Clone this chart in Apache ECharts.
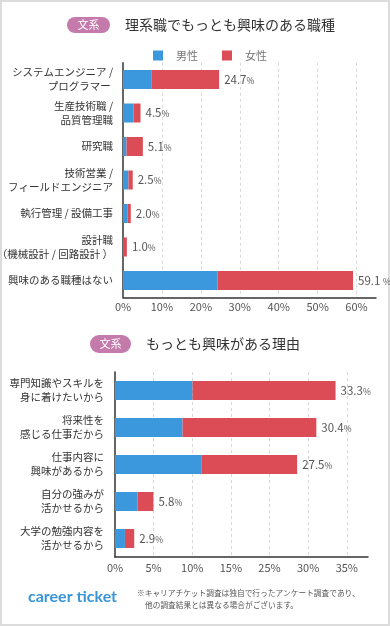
<!DOCTYPE html>
<html><head><meta charset="utf-8">
<script src="https://cdn.jsdelivr.net/npm/echarts@6/dist/echarts.min.js"></script>
<style>html,body{margin:0;padding:0;background:#fff}#c{width:390px;height:626px}</style>
</head><body><div id="c"></div>
<script>
var cats1 = ["システムエンジニア /\nプログラマー ", "生産技術職 /\n品質管理職", "研究職", "技術営業 /\nフィールドエンジニア", "執行管理 / 設備工事", "設計職\n（機械設計 / 回路設計 ）", "興味のある職種はない"];
var male1 = [7.4, 2.7, 0.9, 1.4, 1.2, 0, 24.3];
var female1 = [17.3, 1.8, 4.2, 1.1, 0.8, 1.0, 34.8];
var total1 = ["24.7", "4.5", "5.1", "2.5", "2.0", "1.0", "59.1 "];
var ticks1 = ["0%", "10%", "20%", "30%", "40%", "50%", "60%"];

var cats2 = ["専門知識やスキルを\n身に着けたいから", "将来性を\n感じる仕事だから", "仕事内容に\n興味があるから", "自分の強みが\n活かせるから", "大学の勉強内容を\n活かせるから"];
var male2 = [11.7, 10.2, 13.1, 3.4, 1.5];
var female2 = [21.6, 20.2, 14.4, 2.4, 1.4];
var total2 = ["33.3", "30.4", "27.5", "5.8", "2.9"];
var ticks2 = ["0%", "5%", "10%", "15%", "25%", "30%", "35%"];

var BLUE = '#3b98dd', RED = '#dc4c56', PILL = '#c47aab';
var FONT = '"Noto Sans CJK JP", "Noto Sans", sans-serif';
var chart = echarts.init(document.getElementById('c'));
var step2 = 35 / 6;

function valLabel(totals) {
  return {
    show: true, position: 'right', distance: 5,
    formatter: function (p) { return '{n|' + totals[p.dataIndex] + '}{p|%}'; },
    rich: {
      n: { fontSize: 11.5, color: '#555', fontFamily: FONT },
      p: { fontSize: 8.5, color: '#555', fontFamily: FONT, padding: [2, 0, 0, 0] }
    }
  };
}

var catAxisBase = {
  type: 'category', inverse: true,
  axisLine: { lineStyle: { color: '#333', width: 1.5 } },
  axisTick: { show: false },
  axisLabel: { color: '#333', fontSize: 10.5, lineHeight: 14, fontFamily: FONT, margin: 10, align: 'right' }
};

chart.setOption({
  backgroundColor: '#fff',
  animation: false,
  textStyle: { fontFamily: FONT },
  legend: {
    left: 148, top: 45, itemWidth: 10, itemHeight: 10, itemGap: 24,
    icon: 'rect',
    data: ['男性', '女性'],
    textStyle: { color: '#777', fontSize: 11, padding: [0, 0, 0, 8], fontFamily: FONT }
  },
  grid: [
    { left: 123, right: 14, top: 62.75, height: 234.5, outerBoundsMode: 'none', containLabel: false },
    { left: 115, right: 22, top: 372, height: 185, outerBoundsMode: 'none', containLabel: false }
  ],
  xAxis: [
    {
      gridIndex: 0, type: 'value', min: 0, max: 65, interval: 10,
      axisLine: { show: true, lineStyle: { color: '#333', width: 1.5 } },
      axisTick: { show: false },
      splitLine: { show: true, showMinLine: false, showMaxLine: false, lineStyle: { color: '#d8d8d8', type: [3, 3] } },
      axisLabel: {
        color: '#555', fontSize: 11, margin: 4, fontFamily: FONT, showMaxLabel: false,
        formatter: function (v) { var i = Math.round(v / 10); return (Math.abs(v - i * 10) < 0.01 && i < ticks1.length) ? ticks1[i] : ''; }
      }
    },
    {
      gridIndex: 1, type: 'value', min: 0, max: 38.2, interval: step2,
      axisLine: { show: true, lineStyle: { color: '#333', width: 1.5 } },
      axisTick: { show: false },
      splitLine: { show: true, showMinLine: false, showMaxLine: false, lineStyle: { color: '#d8d8d8', type: [3, 3] } },
      axisLabel: {
        color: '#555', fontSize: 11, margin: 5, fontFamily: FONT, showMaxLabel: false,
        formatter: function (v) { var i = Math.round(v / step2); return (Math.abs(v - i * step2) < 0.01 && i < ticks2.length) ? ticks2[i] : ''; }
      }
    }
  ],
  yAxis: [
    Object.assign({ gridIndex: 0, data: cats1 }, catAxisBase),
    Object.assign({ gridIndex: 1, data: cats2 }, catAxisBase, { axisLabel: Object.assign({}, catAxisBase.axisLabel, { margin: 11 }) })
  ],
  series: [
    { name: '男性', type: 'bar', stack: 'a', xAxisIndex: 0, yAxisIndex: 0, barWidth: 19, data: male1, itemStyle: { color: BLUE } },
    { name: '女性', type: 'bar', stack: 'a', xAxisIndex: 0, yAxisIndex: 0, barWidth: 19, data: female1, itemStyle: { color: RED }, label: valLabel(total1) },
    { name: '男性', type: 'bar', stack: 'b', xAxisIndex: 1, yAxisIndex: 1, barWidth: 19, data: male2, itemStyle: { color: BLUE } },
    { name: '女性', type: 'bar', stack: 'b', xAxisIndex: 1, yAxisIndex: 1, barWidth: 19, data: female2, itemStyle: { color: RED }, label: valLabel(total2) }
  ],
  graphic: [
    { type: 'rect', shape: { x: 1, y: 1, width: 388, height: 624 }, style: { fill: 'none', stroke: '#dcdcdc', lineWidth: 2 }, silent: true },
    { type: 'rect', shape: { x: 67, y: 17, width: 43, height: 16, r: 8 }, style: { fill: PILL } },
    { type: 'text', x: 88.5, y: 25, style: { text: '文系', fill: '#fff', fontSize: 11, fontFamily: FONT, align: 'center', verticalAlign: 'middle' } },
    { type: 'text', x: 125, y: 25, style: { text: '理系職でもっとも興味のある職種', fill: '#333', fontSize: 14, fontFamily: FONT, verticalAlign: 'middle' } },
    { type: 'rect', shape: { x: 90, y: 335, width: 41, height: 18, r: 9 }, style: { fill: PILL } },
    { type: 'text', x: 110.5, y: 344, style: { text: '文系', fill: '#fff', fontSize: 11, fontFamily: FONT, align: 'center', verticalAlign: 'middle' } },
    { type: 'text', x: 146, y: 344, style: { text: 'もっとも興味がある理由', fill: '#333', fontSize: 14, fontFamily: FONT, verticalAlign: 'middle' } },
    { type: 'text', x: 28, y: 597, style: { text: 'career ticket', fill: '#3a95d8', fontSize: 16, fontWeight: 'bold', fontFamily: 'Lato, sans-serif', verticalAlign: 'middle' } },
    { type: 'text', x: 137, y: 593, style: { text: '※キャリアチケット調査は独自で行ったアンケート調査であり、', fill: '#555', fontSize: 7.7, fontFamily: FONT, verticalAlign: 'middle' } },
    { type: 'text', x: 145, y: 605, style: { text: '他の調査結果とは異なる場合がございます。', fill: '#555', fontSize: 7.7, fontFamily: FONT, verticalAlign: 'middle' } }
  ]
});
</script>
</body></html>
